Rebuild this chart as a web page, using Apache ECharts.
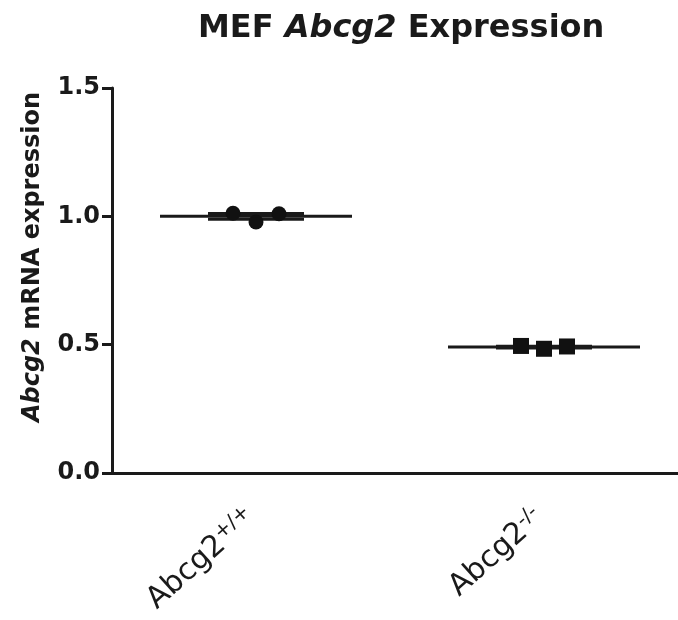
<!DOCTYPE html>
<html><head><meta charset="utf-8">
<script src="https://cdn.jsdelivr.net/npm/echarts@6/dist/echarts.min.js"></script>
<style>html,body{margin:0;padding:0;background:#fff}#c{width:678px;height:620px}</style>
</head><body><div id="c"></div>
<script>
// ---- data ----
const categories = ['Abcg2+/+', 'Abcg2-/-'];
const wildTypeValues = [1.012, 0.978, 1.010];
const knockoutValues = [0.495, 0.484, 0.493];
const yTickLabels = ['0.0', '0.5', '1.0', '1.5'];
const groups = [wildTypeValues, knockoutValues];
const groupSymbols = ['circle', 'rect'];

// ---- styling ----
const INK = '#1a1a1a';
const jitterPx = [-23, 0, 23];
const boldFont = 'DejaVu Sans';

function mean(a){ return a.reduce((s,v)=>s+v,0)/a.length; }
function sem(a){ const m=mean(a); const sd=Math.sqrt(a.reduce((s,v)=>s+(v-m)*(v-m),0)/(a.length-1)); return sd/Math.sqrt(a.length); }

const summary = groups.map((g,i)=>[i, mean(g), sem(g)]);

const scatterSeries = groups.map((g,i)=>({
  type:'scatter',
  symbol: groupSymbols[i],
  symbolSize: i===0 ? 15 : 16,
  itemStyle:{color:'#111', opacity:1},
  emphasis:{disabled:true},
  z:5,
  data: g.map((v,j)=>({value:[i, v], symbolOffset:[jitterPx[j],0]}))
}));

const chart = echarts.init(document.getElementById('c'));
chart.setOption({
  animation:false,
  backgroundColor:'#fff',
  title:{
    left:193, top:4,
    text:'{b|MEF }{i|Abcg2}{b| Expression}',
    textStyle:{
      rich:{
        b:{fontFamily:boldFont, fontWeight:'bold', fontSize:32, color:INK, lineHeight:40},
        i:{fontFamily:boldFont, fontWeight:'bold', fontStyle:'italic', fontSize:32, color:INK, lineHeight:40}
      }
    }
  },
  graphic:[{
    type:'text', x:33, y:257, rotation:Math.PI/2,
    style:{
      text:'{i|Abcg2}{b| mRNA expression}',
      align:'center', verticalAlign:'middle',
      rich:{
        b:{fontFamily:boldFont, fontWeight:'bold', fontSize:24, fill:INK},
        i:{fontFamily:boldFont, fontWeight:'bold', fontStyle:'italic', fontSize:24, fill:INK}
      }
    }
  }],
  grid:{left:112, width:576, top:88, bottom:147, containLabel:false, outerBoundsMode:'none'},
  xAxis:{
    type:'category', data:categories,
    axisLine:{lineStyle:{color:INK, width:3}},
    axisTick:{alignWithLabel:true, length:10, lineStyle:{color:INK, width:3}},
    axisLabel:{
      rotate:42, margin:37, interval:0,
      formatter:(v)=>{ const m=v.match(/^(Abcg2)(.*)$/); return '{n|'+m[1]+'}{s|'+m[2]+'}'; },
      rich:{
        n:{fontFamily:'DejaVu Sans', fontSize:30, color:INK, lineHeight:33},
        s:{fontFamily:'DejaVu Sans', fontSize:20, color:INK, verticalAlign:'top', lineHeight:16, padding:[0,6,0,0]}
      }
    },
    splitLine:{show:false}
  },
  yAxis:{
    type:'value', min:0, max:1.5, interval:0.5,
    axisLine:{show:true, lineStyle:{color:INK, width:3}},
    axisTick:{show:true, length:10, lineStyle:{color:INK, width:3}},
    axisLabel:{
      margin:12,
      formatter:(v)=>yTickLabels[Math.round(v/0.5)],
      fontFamily:boldFont, fontWeight:'bold', fontSize:24, color:INK
    },
    splitLine:{show:false}
  },
  series:[
    {
      type:'custom', z:3,
      data:summary,
      renderItem:(params, api)=>{
        const i=api.value(0), m=api.value(1), s=api.value(2);
        const c=api.coord([i,m]);
        const band=api.size([1,0])[0];
        const up=api.coord([i,m+s])[1], dn=api.coord([i,m-s])[1];
        const half=band/3, cap=band/6;
        const st={stroke:INK, lineWidth:3};
        return {type:'group', children:[
          {type:'line', shape:{x1:c[0]-half,y1:c[1],x2:c[0]+half,y2:c[1]}, style:st},
          {type:'line', shape:{x1:c[0],y1:up,x2:c[0],y2:dn}, style:st},
          {type:'line', shape:{x1:c[0]-cap,y1:up,x2:c[0]+cap,y2:up}, style:st},
          {type:'line', shape:{x1:c[0]-cap,y1:dn,x2:c[0]+cap,y2:dn}, style:st}
        ]};
      }
    }
  ].concat(scatterSeries)
});
</script>
</body></html>
